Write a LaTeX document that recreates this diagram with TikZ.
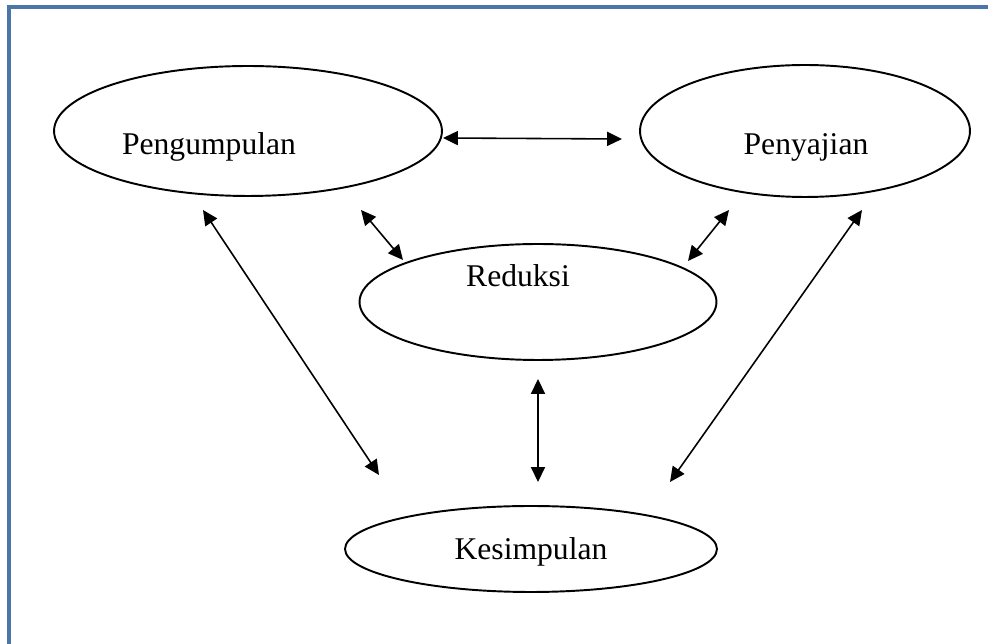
\documentclass[tikz,border=0pt]{standalone}
\usepackage{fontspec}
\setmainfont{Liberation Serif}
\usepackage{tikz}
\usetikzlibrary{shapes.geometric}
\usetikzlibrary{arrows.meta}
\usetikzlibrary{positioning}

\definecolor{framblue}{RGB}{74,118,168}

\tikzset{
	tahap/.style={draw,ellipse,line width=1.1pt,inner sep=0pt},
	teks/.style={anchor=base,font=\fontsize{18}{20}\selectfont},
	panah/.style={line width=.9pt,{Triangle[length=8.5pt,width=8pt]}-{Triangle[length=8.5pt,width=8pt]}}
}

\begin{document}
\begin{tikzpicture}[x=0.02cm,y=-0.02cm]
				\useasboundingbox (0,0) rectangle (988,644);
				\draw[framblue,line width=1.8pt] (9,650) -- (9,7) -- (995,7);
				% ellipses
				\node[tahap,minimum width=7.76cm,minimum height=2.6cm] (kumpul) at (248,131) {};
				\node[tahap,minimum width=6.6cm,minimum height=2.64cm] (saji) at (805,131) {};
				\node[tahap,minimum width=7.14cm,minimum height=2.32cm] (reduksi) at (538,302) {};
				\node[tahap,minimum width=7.44cm,minimum height=1.72cm] (simpul) at (531,549) {};
				% labels
				\node[teks] (tkumpul) at (209,155) {Pengumpulan};
				\node[teks] (tsaji) at (806,155) {Penyajian};
				\node[teks] (treduksi) at (518,287) {Reduksi};
				\node[teks] (tsimpul) at (531,560) {Kesimpulan};
				% arrow ends
				\coordinate (a1) at (443,138);
				\coordinate (b1) at (622,139);
				\coordinate (a2) at (361,210);
				\coordinate (b2) at (403,260);
				\coordinate (a3) at (729,210);
				\coordinate (b3) at (688,261);
				\coordinate (a4) at (203,210);
				\coordinate (b4) at (379,475);
				\coordinate (a5) at (538,379);
				\coordinate (b5) at (538,482);
				\coordinate (a6) at (862,210);
				\coordinate (b6) at (670,482);
				\foreach \i in {1,...,6}
					\draw[panah] (a\i) -- (b\i);
			\end{tikzpicture}
\end{document}
